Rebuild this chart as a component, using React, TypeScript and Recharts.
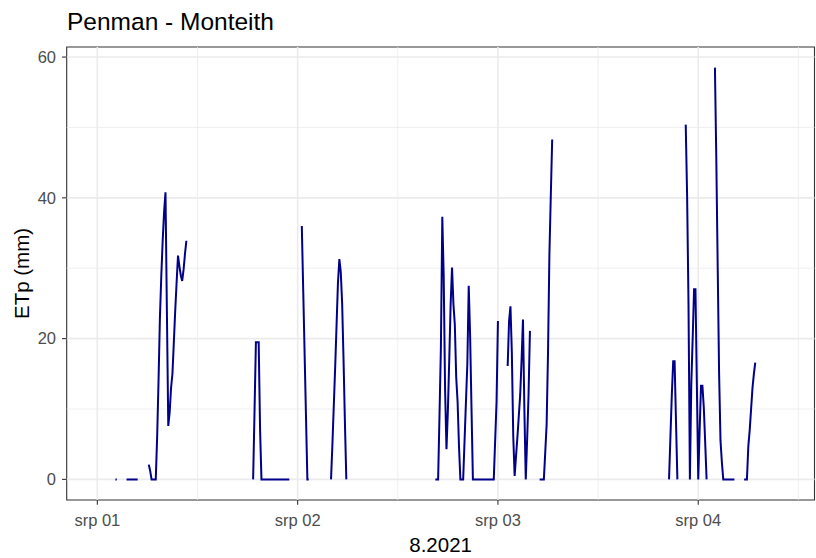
import React from 'react'
import { LineChart, Line, XAxis, YAxis, ReferenceLine, ReferenceArea } from 'recharts'

// ETp (Penman - Monteith), 10 min steps, time in hours from srp 01 00:00
const STEP = 1 / 6

const segmentStarts = [2.1667, 3.5, 6.1667, 18.6667, 24.5, 28, 40.5, 49.1667, 53, 68.5, 70.5, 74, 77.5]

const aug1Night = [0, 0]
const aug1Early = [0, 0, 0, 0, 0, 0, 0, 0, 0]
const aug1Morning = [2.1, 1.2, 0, 0, 0, 0, 6, 14, 23, 29, 34, 38, 40.8, 24, 7.6, 9.5, 13, 15, 19.5, 24, 28, 31.8, 30.3, 29, 28.2, 29.8, 32, 33.9]
const aug1Evening = [0, 9.6, 19.5, 19.5, 19.5, 7, 0, 0, 0, 0, 0, 0, 0, 0, 0, 0, 0, 0, 0, 0, 0, 0, 0, 0, 0, 0, 0]
const aug2Midnight = [36, 27, 18, 9, 0, 0]
const aug2Morning = [0, 5, 10.5, 16, 22, 28, 31.3, 29.5, 25, 17, 8, 0]
const aug2Evening = [
  0, 0, 0, 9.2, 18.8, 37.3, 28.9, 12.8, 4.3, 9.7, 17, 24.9, 30.1, 24.9, 22, 14.5, 11, 4.7, 0, 0, 0,
  5.5, 11, 16.4, 27.5, 20.4, 10, 0, 0, 0, 0, 0, 0, 0, 0, 0, 0, 0, 0, 0, 0, 0, 0, 5.5, 11, 22.5,
]
const aug3Night = [16.1, 22.5, 24.6, 18, 6.2, 0.5, 3.3, 6, 9, 12, 17, 22.7, 10, 0, 5.7, 12, 21.1]
const aug3Early = [0, 0, 0, 0, 3.8, 7.8, 18, 32, 40.3, 48.3]
const aug3Evening = [0, 6, 12, 16.8, 16.8, 8.3, 0]
const aug3Late = [50.4, 40.3, 25, 0, 13.5, 20, 27, 27, 13.5, 0, 7, 13.3, 13.3, 10.2, 5.2, 0]
const aug4Midnight = [58.5, 45.3, 30, 15, 5.5, 2.4, 0, 0, 0, 0, 0, 0, 0, 0, 0]
const aug4Morning = [0, 0, 0, 4.7, 7, 10, 13, 15, 16.6]

const dayTicks = [0, 24, 48, 72]
const dayLabels = ['srp 01', 'srp 02', 'srp 03', 'srp 04']
const minorX = [12, 36, 60, 84]
const majorY = [0, 20, 40, 60]
const minorY = [10, 30, 50]

const segments = [
  aug1Night, aug1Early, aug1Morning, aug1Evening, aug2Midnight, aug2Morning, aug2Evening,
  aug3Night, aug3Early, aug3Evening, aug3Late, aug4Midnight, aug4Morning,
]

const data: { t: number; etp: number | null }[] = []
segments.forEach((vals, k) => {
  vals.forEach((v, i) => data.push({ t: segmentStarts[k] + i * STEP, etp: v }))
  // break the line between measured blocks
  data.push({ t: segmentStarts[k] + (vals.length - 0.5) * STEP, etp: null })
})

const xDomain = [-3.67, 85.93]
const yDomain = [-2.93, 61.43]
const font = '"Liberation Sans", Arial, sans-serif'

const XLabel = ({ viewBox }: any) => (
  <text x={viewBox.x + viewBox.width / 2} y={viewBox.y + 51.5} textAnchor="middle" fontSize={20.5} fill="#000" fontFamily={font}>
    8.2021
  </text>
)

const YLabel = ({ viewBox }: any) => {
  const cx = viewBox.x + 29
  const cy = viewBox.y + viewBox.height / 2
  return (
    <text x={cx} y={cy} transform={`rotate(-90 ${cx} ${cy})`} textAnchor="middle" fontSize={20.5} fill="#000" fontFamily={font}>
      ETp (mm)
    </text>
  )
}

export default function App() {
  return (
    <div style={{ position: 'relative', width: 816, height: 558, fontFamily: font, background: '#fff' }}>
      <style>{'body{margin:0}'}</style>
      <div style={{ position: 'absolute', left: 67, top: 10.3, fontSize: 24.5, lineHeight: '24.5px', color: '#000', whiteSpace: 'nowrap' }}>
        Penman - Monteith
      </div>
      <LineChart width={816} height={558} data={data} margin={{ top: 47, right: 1.5, bottom: 0, left: 0 }}>
        {minorY.map((v) => (
          <ReferenceLine key={'my' + v} y={v} stroke="#EBEBEB" strokeWidth={0.8} />
        ))}
        {minorX.map((v) => (
          <ReferenceLine key={'mx' + v} x={v} stroke="#EBEBEB" strokeWidth={0.8} />
        ))}
        {majorY.map((v) => (
          <ReferenceLine key={'y' + v} y={v} stroke="#EBEBEB" strokeWidth={1.6} />
        ))}
        {dayTicks.map((v) => (
          <ReferenceLine key={'x' + v} x={v} stroke="#EBEBEB" strokeWidth={1.6} />
        ))}
        <XAxis
          dataKey="t"
          type="number"
          domain={xDomain}
          ticks={dayTicks}
          interval={0}
          allowDataOverflow
          tickFormatter={(v: number) => dayLabels[dayTicks.indexOf(v)]}
          axisLine={false}
          tickLine={{ stroke: '#333333', strokeWidth: 1.1 }}
          tickSize={4.7}
          tickMargin={10}
          height={58}
          tick={{ fill: '#4D4D4D', fontSize: 16.5, fontFamily: font }}
          label={<XLabel />}
        />
        <YAxis
          type="number"
          domain={yDomain}
          ticks={majorY}
          interval={0}
          allowDataOverflow
          axisLine={false}
          tickLine={{ stroke: '#333333', strokeWidth: 1.1 }}
          tickSize={4.7}
          tickMargin={6}
          width={66.7}
          tick={{ fill: '#4D4D4D', fontSize: 16.5, fontFamily: font }}
          label={<YLabel />}
        />
        <Line
          type="linear"
          dataKey="etp"
          stroke="#00008B"
          strokeWidth={2}
          dot={false}
          connectNulls={false}
          isAnimationActive={false}
        />
        <ReferenceArea x1={xDomain[0]} x2={xDomain[1]} y1={yDomain[0]} y2={yDomain[1]} fill="none" stroke="#333333" strokeWidth={1.1} fillOpacity={0} />
      </LineChart>
    </div>
  )
}
